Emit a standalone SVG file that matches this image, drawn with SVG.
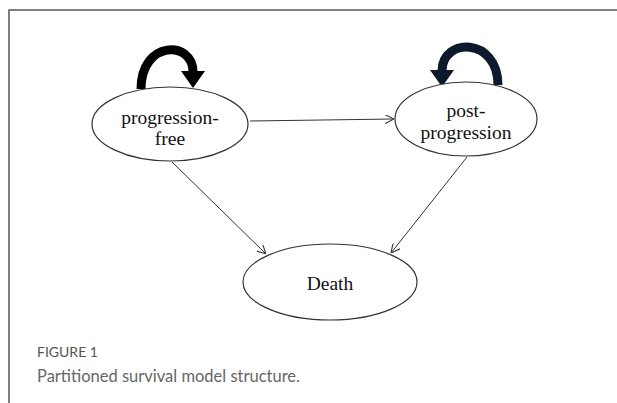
<svg xmlns="http://www.w3.org/2000/svg" width="617" height="403" viewBox="0 0 617 403">
<defs>
<style>
.node{fill:#fff;stroke:#333;stroke-width:1.2}
.lbl{font-family:"Liberation Serif","Times New Roman",serif;font-size:19.5px;fill:#111;text-anchor:middle}
.edge{stroke:#333;stroke-width:1;fill:none;marker-end:url(#ah)}
.loop{fill:none;stroke-width:9}
</style>
<marker id="ah" viewBox="0 0 10 10" refX="10" refY="5" markerWidth="9" markerHeight="9" orient="auto" markerUnits="userSpaceOnUse">
<path d="M0,0 L10,5 L0,10" fill="none" stroke="#333" stroke-width="1.2"/>
</marker>
</defs>
<rect width="617" height="403" fill="#fff"/>
<path d="M9 403 V10 H617" fill="none" stroke="#555" stroke-width="1.5"/>
<g id="connectors">
<line class="edge" x1="250" y1="121" x2="394" y2="119"/>
<line class="edge" x1="172" y1="162" x2="266" y2="254"/>
<line class="edge" x1="467" y1="157" x2="391" y2="253"/>
<path class="loop" stroke="#000" d="M141 89 C141 40 193 40 193 72"/>
<polygon points="181,71 205,71 193,88" fill="#000"/>
<path class="loop" stroke="#0d1a2e" d="M498 85 C498 37 442 37 442 71"/>
<polygon points="430,70 454,70 442,87" fill="#0d1a2e"/>
</g>
<g id="progression-free">
<ellipse class="node" cx="170" cy="124" rx="78" ry="37"/>
<text class="lbl" x="170" y="124">progression-</text>
<text class="lbl" x="170" y="145">free</text>
</g>
<g id="post-progression">
<ellipse class="node" cx="466" cy="119" rx="71" ry="37"/>
<text class="lbl" x="466" y="117">post-</text>
<text class="lbl" x="466" y="139">progression</text>
</g>
<g id="death">
<ellipse class="node" cx="330" cy="282" rx="87" ry="38"/>
<text class="lbl" x="330" y="290">Death</text>
</g>
<text x="37" y="357" font-family="Lato,'Open Sans',sans-serif" font-size="14" fill="#555">FIGURE 1</text>
<text x="37" y="382" font-family="Lato,'Open Sans',sans-serif" font-size="16.5" fill="#666">Partitioned survival model structure.</text>
</svg>
